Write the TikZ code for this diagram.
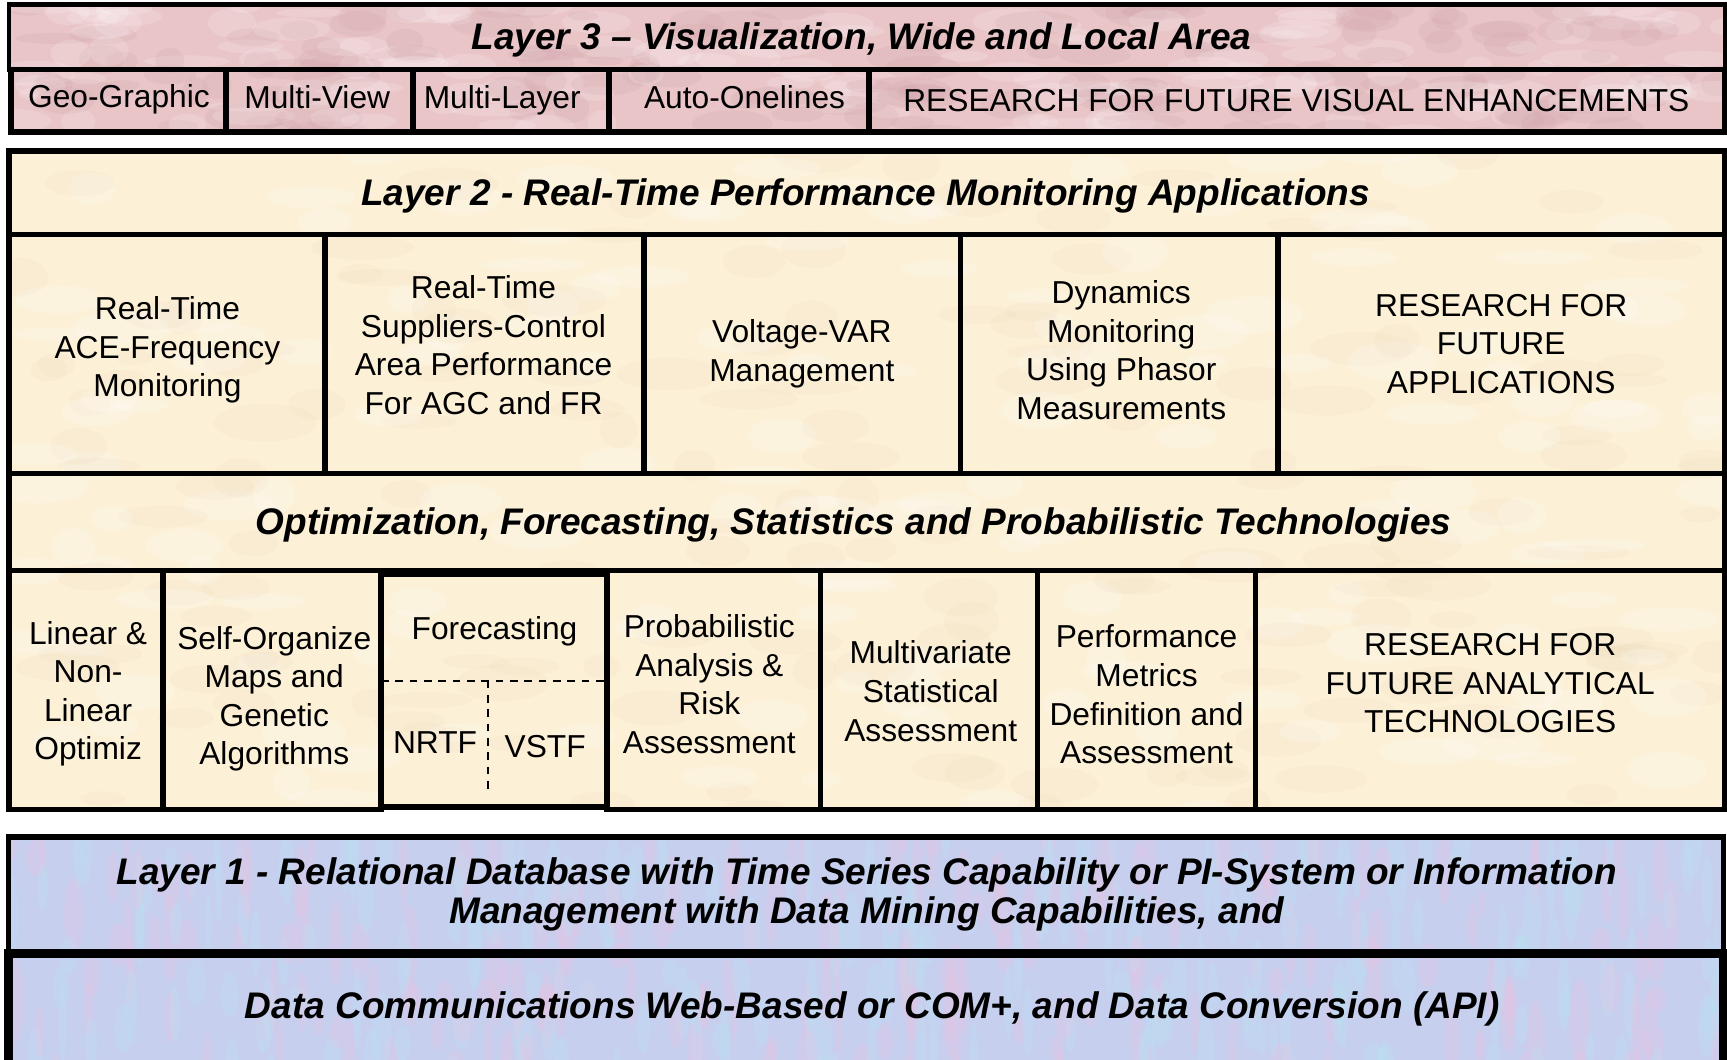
\documentclass[tikz,border=0pt]{standalone}
\usepackage{fontspec}
\setmainfont{Liberation Sans}
\definecolor{visrose}{RGB}{233,197,199}
\definecolor{visdark}{RGB}{205,160,166}
\definecolor{appcream}{RGB}{252,240,215}
\definecolor{apptan}{RGB}{236,218,188}
\definecolor{datablue}{RGB}{198,207,238}
\definecolor{datapink}{RGB}{232,196,226}
\definecolor{datacyan}{RGB}{185,226,242}
\newcommand\lyrhead{\fontsize{16.8}{17.5}\selectfont\bfseries\itshape}
\newcommand\lyrbody{\fontsize{14.4}{17.5}\selectfont}
\begin{document}
\begin{tikzpicture}[x=0.5pt,y=-0.5pt,
  cell/.style={draw=black, line width=2.6pt, inner sep=0pt, outer sep=0pt},
  head/.style={font=\lyrhead, align=center, inner sep=0pt},
  plain/.style={font=\lyrbody, align=center, inner sep=0pt},
  split/.style={draw=black, line width=1pt, dash pattern=on 3.5pt off 3pt}]
\useasboundingbox (0,0) rectangle (1568,962);
\clip (0,0) rectangle (1568,962);
\pgfmathsetseed{4242}

% ---- mottled backgrounds of the three layers ----
\fill[visrose] (8,4) rectangle (1566,122);
\begin{scope}
  \clip (8,4) rectangle (1566,122);
  \foreach \i in {1,...,140} {
    \fill[visdark, opacity=0.18] ({8+1558*rnd},{4+118*rnd}) ellipse [x radius={6pt+14pt*rnd}, y radius={2pt+5pt*rnd}];
    \fill[white, opacity=0.16] ({8+1558*rnd},{4+118*rnd}) ellipse [x radius={6pt+14pt*rnd}, y radius={2pt+5pt*rnd}];
  }
\end{scope}
\fill[appcream] (8,137) rectangle (1566,735);
\begin{scope}
  \clip (8,137) rectangle (1566,735);
  \foreach \i in {1,...,160} {
    \fill[apptan, opacity=0.16] ({8+1558*rnd},{137+598*rnd}) ellipse [x radius={8pt+16pt*rnd}, y radius={3pt+6pt*rnd}];
    \fill[white, opacity=0.2] ({8+1558*rnd},{137+598*rnd}) ellipse [x radius={8pt+16pt*rnd}, y radius={3pt+6pt*rnd}];
  }
\end{scope}
\fill[datablue] (8,760) rectangle (1565,990);
\begin{scope}
  \clip (8,760) rectangle (1565,990);
  \foreach \i in {1,...,220} {
    \fill[datapink, opacity=0.3] ({8+1557*rnd},{760+230*rnd}) ellipse [x radius={1.5pt+3pt*rnd}, y radius={6pt+14pt*rnd}];
    \fill[datacyan, opacity=0.3] ({8+1557*rnd},{760+230*rnd}) ellipse [x radius={1.5pt+3pt*rnd}, y radius={6pt+14pt*rnd}];
  }
\end{scope}

% ---- Layer 3: visualization ----
\node[cell, line width=2pt, minimum width=779pt, minimum height=29.5pt] (l3title) at (787,33.5) {};
\node[cell, minimum width=97.5pt, minimum height=28.5pt] (geo) at (107.5,91.5) {};
\node[cell, minimum width=85pt, minimum height=28.5pt] (mview) at (290,91.5) {};
\node[cell, minimum width=89pt, minimum height=28.5pt] (mlayer) at (464,91.5) {};
\node[cell, minimum width=118pt, minimum height=28.5pt] (auto) at (671,91.5) {};
\node[cell, minimum width=388.5pt, minimum height=28.5pt] (resvis) at (1177.5,91.5) {};
\node[head] (l3head) at (782,36.5) {Layer 3 – Visualization, Wide and Local Area};
\node[plain] (geo-t) at (108,90.5) {Geo-Graphic};
\node[plain] (mview-t) at (288,88.5) {Multi-View};
\node[plain] (mlayer-t) at (456,91.5) {Multi-Layer};
\node[plain] (auto-t) at (676,88.5) {Auto-Onelines};
\node[plain] (resvis-t) at (1177,91.5) {RESEARCH FOR FUTURE VISUAL ENHANCEMENTS};

% ---- Layer 2: real-time applications ----
\node[cell, minimum width=779pt, minimum height=38pt] (l2title) at (787,175) {};
\node[cell, minimum width=143.5pt, minimum height=108.5pt] (ace) at (151.5,321.5) {};
\node[cell, minimum width=145pt, minimum height=108.5pt] (supp) at (440,321.5) {};
\node[cell, minimum width=143.5pt, minimum height=108.5pt] (volt) at (728.5,321.5) {};
\node[cell, minimum width=144pt, minimum height=108.5pt] (dyn) at (1016,321.5) {};
\node[cell, minimum width=203pt, minimum height=108.5pt] (resapp) at (1363,321.5) {};
\node[head] (l2head) at (786,178) {Layer 2 - Real-Time Performance Monitoring Applications};
\node[plain] (ace-t) at (152,318) {Real-Time\\ACE-Frequency\\Monitoring};
\node[plain] (supp-t) at (439,313.5) {Real-Time\\Suppliers-Control\\Area Performance\\For AGC and FR};
\node[plain] (volt-t) at (728,321) {Voltage-VAR\\Management};
\node[plain] (dyn-t) at (1018,318) {Dynamics\\Monitoring\\Using Phasor\\Measurements};
\node[plain] (resapp-t) at (1363,312) {RESEARCH FOR\\FUTURE\\APPLICATIONS};

% ---- analytical technologies ----
\node[cell, minimum width=779pt, minimum height=44pt] (opt) at (787,474) {};
\node[cell, minimum width=70pt, minimum height=108.5pt] (lin) at (78,626.5) {};
\node[cell, minimum width=99pt, minimum height=108.5pt] (som) at (247,626.5) {};
\node[cell, minimum width=102.5pt, minimum height=106pt] (fore) at (448.5,627) {};
\node[cell, minimum width=97pt, minimum height=108.5pt] (prob) at (648,626.5) {};
\node[cell, minimum width=98.5pt, minimum height=108.5pt] (multi) at (843.5,626.5) {};
\node[cell, minimum width=99pt, minimum height=108.5pt] (perf) at (1041,626.5) {};
\node[cell, minimum width=213pt, minimum height=108.5pt] (resana) at (1353,626.5) {};
\node[head] (opthead) at (775,477) {Optimization, Forecasting, Statistics and Probabilistic Technologies};
\node[plain] (lin-t) at (80,630) {Linear \&\\Non-\\Linear\\Optimiz};
\node[plain] (som-t) at (249,634.5) {Self-Organize\\Maps and\\Genetic\\Algorithms};
\node[plain] (prob-t) at (644,621) {Probabilistic\\Analysis \&\\Risk\\Assessment};
\node[plain] (multi-t) at (845,627.5) {Multivariate\\Statistical\\Assessment};
\node[plain] (perf-t) at (1041,630.5) {Performance\\Metrics\\Definition and\\Assessment};
\node[plain] (resana-t) at (1353,620.5) {RESEARCH FOR\\FUTURE ANALYTICAL\\TECHNOLOGIES};

% forecasting cell split into NRTF and VSTF
\node[plain] (fore-t) at (449,573) {Forecasting};
\coordinate (fsplit) at (443,618);
\coordinate (fend) at (443,722);
\draw[split] (fore.west |- fsplit) -- (fore.east |- fsplit);
\draw[split] (fsplit) -- (fend);
\node[plain] (nrtf) at (395,674) {NRTF};
\node[plain] (vstf) at (495,678) {VSTF};

% ---- Layer 1: data ----
\node[cell, line width=2.4pt, minimum width=778.5pt, minimum height=53pt] (l1title) at (786.5,813) {};
\node[cell, line width=4pt, minimum width=778.5pt, minimum height=62pt] (l1data) at (786.5,928) {};
\node[head] (l1head) at (787,812) {Layer 1 - Relational Database with Time Series Capability or PI-System or Information\\Management with Data Mining Capabilities, and};
\node[head] (comms) at (792,916) {Data Communications Web-Based or COM+, and Data Conversion (API)};
\end{tikzpicture}
\end{document}
